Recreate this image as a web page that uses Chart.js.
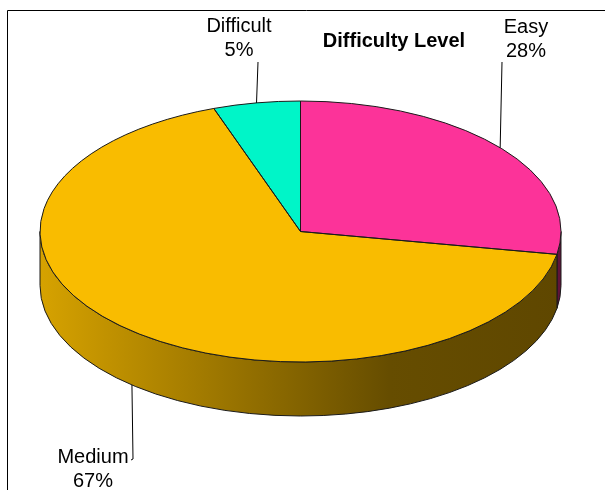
<!DOCTYPE html>
<html>
<head>
<meta charset="utf-8">
<script src="https://cdn.jsdelivr.net/npm/chart.js@4.4.1/dist/chart.umd.min.js"></script>
<style>
  html, body { margin: 0; padding: 0; background: #ffffff; overflow: hidden; }
  #wrap { position: relative; width: 605px; height: 490px; }
</style>
</head>
<body>
<div id="wrap"><canvas id="c" width="605" height="490"></canvas></div>
<script>
// ---- data ----
const categories = ['Easy', 'Medium', 'Difficult'];
const shares = [27.8, 66.8, 5.4];          // slice sizes (percent)
const chartTitle = 'Difficulty Level';

// ---- styles / layout ----
const sliceColors = ['#FC3399', '#F9BC00', '#00F5C8'];
const labelPositions = [ { x: 526, y: 33 }, { x: 93, y: 463 }, { x: 239, y: 32 } ]; // baseline of 1st line
const leaderEnds = [ { x: 502, y: 62 }, { x: 133, y: 459 }, { x: 258, y: 62 } ];
const DEPTH = 54;
const LINE_GAP = 24;
const FONT = '"Liberation Sans", Arial, Helvetica, sans-serif';

function shade(hex, f) {
  const n = parseInt(hex.slice(1), 16);
  const r = Math.round(((n >> 16) & 255) * f);
  const g = Math.round(((n >> 8) & 255) * f);
  const b = Math.round((n & 255) * f);
  return 'rgb(' + r + ',' + g + ',' + b + ')';
}

function frontSegments(s, e) {
  const out = [];
  for (let k = -1; k <= 1; k++) {
    const a1 = Math.max(s + 2 * Math.PI * k, 0);
    const a2 = Math.min(e + 2 * Math.PI * k, Math.PI);
    if (a2 > a1 + 1e-6) out.push([a1, a2]);
  }
  return out;
}

const pie3d = {
  id: 'pie3d',
  beforeDatasetsDraw(chart) {
    const ctx = chart.ctx;
    const arcs = chart.getDatasetMeta(0).data;
    const a0 = arcs[0];
    const cx = a0.x, cy = a0.y, ry = a0.outerRadius, rx = chart.chartArea.width / 2;
    chart.$geo = { cx, cy, rx, ry };
    // extruded side walls
    arcs.forEach((arc, i) => {
      frontSegments(arc.startAngle, arc.endAngle).forEach(([s, e]) => {
        ctx.beginPath();
        ctx.ellipse(cx, cy, rx, ry, 0, s, e, false);
        ctx.lineTo(cx + rx * Math.cos(e), cy + DEPTH + ry * Math.sin(e));
        ctx.ellipse(cx, cy + DEPTH, rx, ry, 0, e, s, true);
        ctx.closePath();
        const g = ctx.createLinearGradient(cx - rx, 0, cx + rx, 0);
        g.addColorStop(0, shade(sliceColors[i], 0.86));
        g.addColorStop(0.67, shade(sliceColors[i], 0.41));
        g.addColorStop(1, shade(sliceColors[i], 0.38));
        ctx.fillStyle = g;
        ctx.fill();
        ctx.strokeStyle = '#1a1a1a';
        ctx.lineWidth = 1;
        ctx.stroke();
      });
    });
    // flatten the top face into an ellipse
    ctx.save();
    ctx.translate(cx, cy);
    ctx.scale(rx / ry, 1);
    ctx.translate(-cx, -cy);
  },
  afterDatasetsDraw(chart) {
    const ctx = chart.ctx;
    ctx.restore();
    const { cx, cy, rx, ry } = chart.$geo;
    const arcs = chart.getDatasetMeta(0).data;
    ctx.strokeStyle = '#1a1a1a';
    ctx.lineWidth = 1;
    arcs.forEach((arc) => {
      ctx.beginPath();
      ctx.moveTo(cx, cy);
      ctx.lineTo(cx + rx * Math.cos(arc.startAngle), cy + ry * Math.sin(arc.startAngle));
      ctx.ellipse(cx, cy, rx, ry, 0, arc.startAngle, arc.endAngle, false);
      ctx.closePath();
      ctx.stroke();
    });
  },
  afterDraw(chart) {
    const ctx = chart.ctx;
    const { cx, cy, rx, ry } = chart.$geo;
    const arcs = chart.getDatasetMeta(0).data;
    const total = shares.reduce((a, b) => a + b, 0);
    ctx.save();
    // frame (top and left edges)
    ctx.strokeStyle = '#000';
    ctx.lineWidth = 1;
    ctx.beginPath();
    ctx.moveTo(605, 10.5);
    ctx.lineTo(7.5, 10.5);
    ctx.lineTo(7.5, 490);
    ctx.stroke();
    // title
    ctx.fillStyle = '#000';
    ctx.textAlign = 'center';
    ctx.textBaseline = 'alphabetic';
    ctx.font = 'bold 20px ' + FONT;
    ctx.fillText(chartTitle, 394, 47);
    // leader lines + labels
    ctx.font = '20px ' + FONT;
    arcs.forEach((arc, i) => {
      const mid = (arc.startAngle + arc.endAngle) / 2;
      const front = Math.sin(mid) > 0;
      const ax = cx + rx * Math.cos(mid);
      const ay = cy + ry * Math.sin(mid) + (front ? DEPTH : 0);
      ctx.beginPath();
      ctx.moveTo(ax, ay);
      ctx.lineTo(leaderEnds[i].x, leaderEnds[i].y);
      if (front) ctx.lineTo(leaderEnds[i].x - 2, leaderEnds[i].y + 1);
      ctx.stroke();
      const pct = Math.round(shares[i] / total * 100);
      ctx.fillText(categories[i], labelPositions[i].x, labelPositions[i].y);
      ctx.fillText(pct + '%', labelPositions[i].x, labelPositions[i].y + LINE_GAP);
    });
    ctx.restore();
  }
};

new Chart(document.getElementById('c'), {
  type: 'pie',
  data: {
    labels: categories,
    datasets: [{
      data: shares,
      backgroundColor: sliceColors,
      borderWidth: 0,
      hoverOffset: 0,
      clip: false
    }]
  },
  options: {
    responsive: false,
    devicePixelRatio: 1,
    animation: false,
    events: [],
    layout: { padding: { left: 40, right: 44, top: 101, bottom: 128 } },
    plugins: {
      legend: { display: false },
      tooltip: { enabled: false },
      title: { display: false }
    }
  },
  plugins: [pie3d]
});
</script>
</body>
</html>
